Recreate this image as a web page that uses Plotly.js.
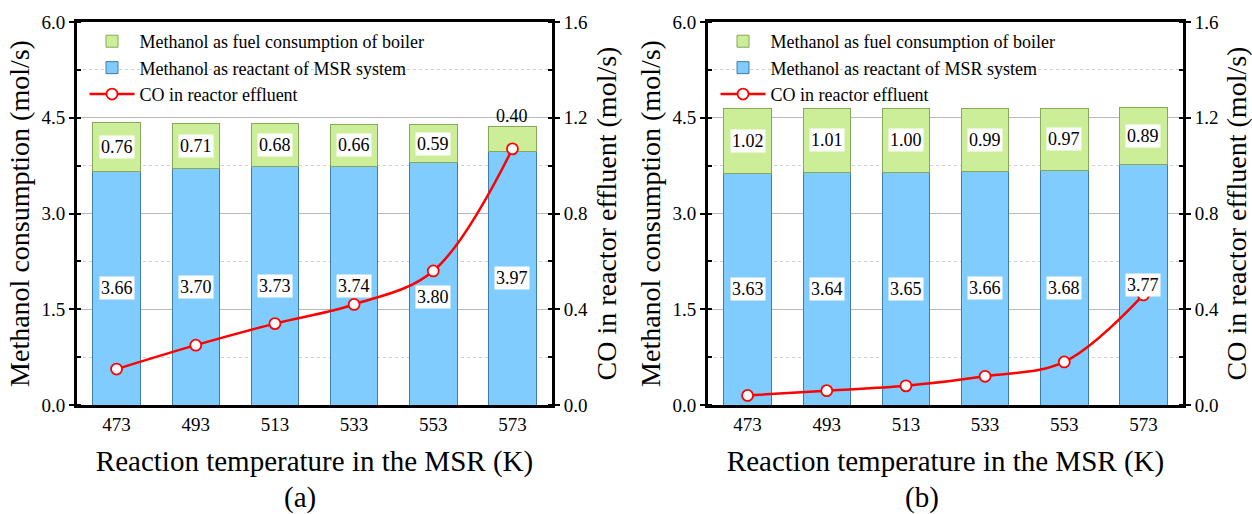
<!DOCTYPE html>
<html>
<head>
<meta charset="utf-8">
<script src="https://cdn.plot.ly/plotly-3.0.1.min.js"></script>
<style>
  html, body { margin: 0; padding: 0; background: #fff; }
  #chart { width: 1252px; height: 514px; }
</style>
</head>
<body>
<div id="chart"></div>
<script>
// Reaction temperatures (K)
const temps = ['473', '493', '513', '533', '553', '573'];

// Panel (a)
const reactantA = [3.66, 3.70, 3.73, 3.74, 3.80, 3.97];
const fuelA = [0.76, 0.71, 0.68, 0.66, 0.59, 0.40];
const coA = [0.15, 0.25, 0.34, 0.42, 0.56, 1.07];

// Panel (b)
const reactantB = [3.63, 3.64, 3.65, 3.66, 3.68, 3.77];
const fuelB = [1.02, 1.01, 1.00, 0.99, 0.97, 0.89];
const coB = [0.04, 0.06, 0.08, 0.12, 0.18, 0.46];

const leftTicks = [0, 1.5, 3.0, 4.5, 6.0];
const rightTicks = [0, 0.4, 0.8, 1.2, 1.6];

const SERIF = 'Liberation Serif, Times New Roman, serif';
const BLUE = '#80ccff', BLUE_EDGE = '#3d7ca6';
const GREEN = '#ccee99', GREEN_EDGE = '#86a85a';
const RED = '#ff0000';

function panelTraces(reactant, fuel, co, xa, ya, yb, legendId) {
  return [
    {
      type: 'bar', x: temps, y: reactant, xaxis: xa, yaxis: ya,
      name: 'Methanol as reactant of MSR system', legend: legendId, legendrank: 2,
      width: 0.6, marker: { color: BLUE, line: { color: BLUE_EDGE, width: 1 } },
      hoverinfo: 'y'
    },
    {
      type: 'bar', x: temps, y: fuel, xaxis: xa, yaxis: ya,
      name: 'Methanol as fuel consumption of boiler', legend: legendId, legendrank: 1,
      width: 0.6, marker: { color: GREEN, line: { color: GREEN_EDGE, width: 1 } },
      hoverinfo: 'y'
    },
    {
      type: 'scatter', mode: 'lines+markers', x: temps, y: co, xaxis: xa, yaxis: yb,
      name: 'CO in reactor effluent', legend: legendId, legendrank: 3,
      line: { color: RED, width: 2.5, shape: 'spline', smoothing: 1 },
      marker: { symbol: 'circle', size: 11, color: '#ffffff', line: { color: RED, width: 1.8 } },
      cliponaxis: false
    }
  ];
}

const data = [].concat(
  panelTraces(reactantA, fuelA, coA, 'x', 'y', 'y2', 'legend'),
  panelTraces(reactantB, fuelB, coB, 'x2', 'y3', 'y4', 'legend2')
);

// Value labels on the stacked bars (category axes take the index as position)
function barLabels(reactant, fuel, xa, ya, opts) {
  const anns = [];
  temps.forEach((t, i) => {
    const r = reactant[i], f = fuel[i];
    const rs = (opts.reactantShift && opts.reactantShift[i]) || 0;
    anns.push({
      x: i, y: r / 2, xref: xa, yref: ya, text: r.toFixed(2), showarrow: false,
      yshift: rs, bgcolor: '#ffffff', borderpad: 1,
      font: { family: SERIF, size: 18, color: '#000' }
    });
    if (opts.fuelAbove && opts.fuelAbove[i]) {
      anns.push({
        x: i, y: r + f, xref: xa, yref: ya, text: f.toFixed(2), showarrow: false,
        yanchor: 'bottom', yshift: -2,
        font: { family: SERIF, size: 18, color: '#000' }
      });
    } else {
      anns.push({
        x: i, y: r + f / 2, xref: xa, yref: ya, text: f.toFixed(2), showarrow: false,
        bgcolor: '#ffffff', borderpad: 1,
        font: { family: SERIF, size: 18, color: '#000' }
      });
    }
  });
  return anns;
}

const annotations = [].concat(
  barLabels(reactantA, fuelA, 'x', 'y', {
    reactantShift: [0, 0, 0, 0, -13, 0],
    fuelAbove: [false, false, false, false, false, true]
  }),
  barLabels(reactantB, fuelB, 'x2', 'y3', {}),
  [
    { text: '(a)', xref: 'paper', yref: 'paper', x: 300 / 1252, y: 1 - 497 / 514,
      xanchor: 'center', yanchor: 'middle',
      showarrow: false, font: { family: SERIF, size: 29, color: '#000' } },
    { text: '(b)', xref: 'paper', yref: 'paper', x: 922 / 1252, y: 1 - 497 / 514,
      xanchor: 'center', yanchor: 'middle',
      showarrow: false, font: { family: SERIF, size: 29, color: '#000' } }
  ]
);

const yDomain = [1 - 405 / 514, 1 - 22 / 514];
const domA = [77 / 1252, 552 / 1252];
const domB = [708 / 1252, 1183 / 1252];

function xAxis(domain, anchor) {
  return {
    domain: domain, anchor: anchor, type: 'category', range: [-0.5, 5.5],
    showline: true, linecolor: '#000', linewidth: 3, mirror: true,
    ticks: '', showgrid: false, zeroline: false,
    tickfont: { family: SERIF, size: 19, color: '#000' },
    title: { text: 'Reaction temperature in the MSR (K)', standoff: 17,
             font: { family: SERIF, size: 29, color: '#000' } },
    fixedrange: true
  };
}

function leftAxis(anchor) {
  return {
    domain: yDomain, anchor: anchor, range: [0, 6], tickvals: leftTicks,
    tickformat: '.1f', showline: true, linecolor: '#000', linewidth: 3,
    ticks: 'outside', ticklen: 5, tickwidth: 2, tickcolor: '#000',
    showgrid: true, gridcolor: '#b8b8b8', gridwidth: 1, zeroline: false,
    minor: { dtick: 0.75, tick0: 0, ticks: 'inside', ticklen: 4, tickwidth: 2, tickcolor: '#000',
             showgrid: true, gridcolor: '#d0d0d0', griddash: 'dot', gridwidth: 1 },
    tickfont: { family: SERIF, size: 19, color: '#000' },
    title: { text: 'Methanol consumption (mol/s)', standoff: 4,
             font: { family: SERIF, size: 28, color: '#000' } },
    fixedrange: true
  };
}

function rightAxis(anchor, over) {
  return {
    domain: yDomain, anchor: anchor, overlaying: over, side: 'right',
    range: [0, 1.6], tickvals: rightTicks, tickformat: '.1f',
    showline: true, linecolor: '#000', linewidth: 3,
    ticks: 'outside', ticklen: 5, tickwidth: 2, tickcolor: '#000',
    showgrid: false, zeroline: false,
    minor: { dtick: 0.2, tick0: 0, ticks: 'inside', ticklen: 4, tickwidth: 2, tickcolor: '#000',
             showgrid: false },
    tickfont: { family: SERIF, size: 19, color: '#000' },
    title: { text: 'CO in reactor effluent (mol/s)', standoff: 10,
             font: { family: SERIF, size: 28, color: '#000' } },
    fixedrange: true
  };
}

function legendAt(x) {
  return {
    x: x, y: yDomain[1] - 0.002, xanchor: 'left', yanchor: 'top',
    traceorder: 'normal',
    bgcolor: 'rgba(0,0,0,0)', borderwidth: 0, itemwidth: 45, tracegroupgap: 0,
    font: { family: SERIF, size: 18, color: '#000' }
  };
}

const layout = {
  width: 1252, height: 514,
  margin: { l: 0, r: 0, t: 0, b: 0, autoexpand: false },
  paper_bgcolor: '#ffffff', plot_bgcolor: '#ffffff',
  barmode: 'stack', showlegend: true,
  font: { family: SERIF, color: '#000' },
  xaxis: xAxis(domA, 'y'),
  yaxis: leftAxis('x'),
  yaxis2: rightAxis('x', 'y'),
  xaxis2: xAxis(domB, 'y3'),
  yaxis3: leftAxis('x2'),
  yaxis4: rightAxis('x2', 'y3'),
  legend: legendAt(domA[0] + 0.006),
  legend2: legendAt(domB[0] + 0.006),
  annotations: annotations
};

Plotly.newPlot('chart', data, layout, { displayModeBar: false, staticPlot: true });
</script>
</body>
</html>
